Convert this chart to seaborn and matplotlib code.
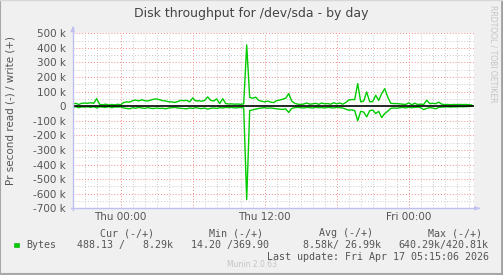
import numpy as np
import pandas as pd
import matplotlib
matplotlib.use("Agg")
import matplotlib.pyplot as plt
from matplotlib.patches import Rectangle
import seaborn as sns

# ---------------- data ----------------
start_hour = -4.0          # Wed 20:00 relative to Thu 00:00
step_hour = 0.25           # 15-minute samples
write_k = [15, 20, 12, 20, 22, 20, 24, 20, 52, 12,
           10, 14, 8, 12, 9, 13, 10, 25, 30, 28,
           38, 42, 36, 44, 38, 36, 42, 48, 50, 44,
           38, 36, 30, 30, 26, 32, 40, 38, 40, 30,
           57, 36, 38, 34, 40, 64, 40, 36, 50, 18,
           52, 18, 15, 16, 14, 15, 13, 16, 420, 60,
           55, 62, 40, 34, 30, 35, 28, 25, 38, 42,
           48, 55, 87, 35, 20, 14, 12, 15, 22, 14,
           16, 20, 13, 22, 16, 18, 14, 24, 16, 22,
           14, 25, 42, 46, 45, 155, 30, 35, 98, 30,
           32, 75, 40, 87, 120, 64, 20, 18, 18, 16,
           14, 12, 23, 10, 20, 12, 14, 12, 41, 18,
           20, 17, 28, 14, 11, 12, 10, 12, 11, 12,
           11, 12, 10, 8.29]
read_k = [8, 3, 10, 5, 6, 4, 8, 3, 12, 4,
          6, 8, 3, 10, 5, 6, 4, 12, 15, 18,
          10, 14, 8, 12, 15, 10, 14, 16, 12, 15,
          14, 18, 12, 10, 8, 12, 14, 16, 18, 12,
          15, 10, 14, 16, 12, 20, 14, 12, 15, 10,
          12, 8, 10, 8, 12, 10, 8, 12, 640, 30,
          25, 20, 15, 12, 10, 14, 12, 15, 18, 20,
          22, 18, 43, 15, 10, 8, 10, 12, 8, 10,
          12, 8, 10, 9, 12, 8, 10, 12, 8, 10,
          12, 20, 27, 25, 30, 100, 35, 40, 73, 30,
          27, 50, 35, 78, 50, 35, 15, 12, 14, 10,
          8, 12, 6, 10, 8, 6, 10, 23, 15, 10,
          12, 18, 8, 6, 5, 4, 6, 4, 5, 3,
          4, 3, 2, 0.49]
x_tick_hours = [0, 12, 24]
x_tick_labels = ["Thu 00:00", "Thu 12:00", "Fri 00:00"]
y_ticks_k = [500, 400, 300, 200, 100, 0, -100, -200, -300, -400, -500, -600, -700]

legend_header = ["Cur (-/+)", "Min (-/+)", "Avg (-/+)", "Max (-/+)"]
legend_values = ["488.13 /   8.29k", "14.20 /369.90", "8.58k/ 26.99k", "640.29k/420.81k"]
legend_name = "Bytes"
last_update = "Last update: Fri Apr 17 05:15:06 2026"
title = "Disk throughput for /dev/sda - by day"
ylabel = "Pr second read (-) / write (+)"

n = len(write_k)
hours = start_hour + step_hour * np.arange(n)
df = pd.DataFrame({
    "hour": np.concatenate([hours, hours]),
    "value": np.concatenate([np.array(write_k) * 1000, -np.array(read_k) * 1000]),
    "dir": ["write"] * n + ["read"] * n,
})

# ---------------- figure ----------------
W, H = 503, 275
fig = plt.figure(figsize=(W / 100, H / 100), dpi=100, facecolor="#F0F0F0")

def fx(x):
    return x / W

def fy(y):
    return 1 - y / H

L, R, T, B = 72.7, 474.0, 33.3, 208.3
ax = fig.add_axes([fx(L), fy(B), fx(R) - fx(L), fy(T) - fy(B)])
ax.set_facecolor("white")

x0 = start_hour
x1 = start_hour + (R - L) / 12.0
ax.set_xlim(x0, x1)
ax.set_ylim(-700000, 500000)

# grid
for h in np.arange(-3, 30, 1):
    if h % 6 != 0:
        ax.axvline(h, color="#C8C8C8", lw=0.7, ls=(0, (1, 2)), zorder=1)
for v in np.arange(-650000, 500001, 100000):
    ax.axhline(v, color="#C8C8C8", lw=0.7, ls=(0, (1, 2)), zorder=1)
for h in np.arange(0, 30, 6):
    ax.axvline(h, color="#F08A8A", lw=0.7, ls=(0, (1, 2)), zorder=1.5)
for v in y_ticks_k:
    if v != 0:
        ax.axhline(v * 1000, color="#F08A8A", lw=0.7, ls=(0, (1, 2)), zorder=1.5)

sns.lineplot(data=df[df["dir"] == "write"], x="hour", y="value", color="#00CC00",
             lw=1.0, ax=ax, zorder=3, estimator=None)
sns.lineplot(data=df[df["dir"] == "read"], x="hour", y="value", color="#00CC00",
             lw=1.0, ax=ax, zorder=3, estimator=None)
ax.axhline(0, color="black", lw=1.2, zorder=4)

for s in ax.spines.values():
    s.set_visible(False)

ax.set_xticks(x_tick_hours)
ax.set_xticklabels(x_tick_labels)
ax.set_yticks([v * 1000 for v in y_ticks_k])
ax.set_yticklabels([("%d k" % v) if v != 0 else "0" for v in y_ticks_k])
ax.tick_params(axis="both", length=0, colors="#555555", labelsize=7.5)
ax.tick_params(axis="y", pad=5)
ax.tick_params(axis="x", pad=3)
ax.set_xlabel("")
ax.set_ylabel("")

# axis lines with arrows (light blue)
axcol = "#C0C0F0"
fig.add_artist(plt.Line2D([fx(L), fx(L)], [fy(B + 2), fy(T - 6)], color=axcol, lw=1.0))
fig.add_artist(plt.Line2D([fx(L - 2), fx(R + 5)], [fy(B), fy(B)], color=axcol, lw=1.0))
ax.annotate("", xy=(fx(L), fy(T - 9)), xytext=(fx(L), fy(T - 3)), xycoords="figure fraction",
            arrowprops=dict(arrowstyle="-|>", color=axcol, lw=0.8, mutation_scale=6))
ax.annotate("", xy=(fx(R + 8), fy(B)), xytext=(fx(R + 2), fy(B)), xycoords="figure fraction",
            arrowprops=dict(arrowstyle="-|>", color=axcol, lw=0.8, mutation_scale=6))

# texts
fig.text(fx(251), fy(13.5), title, ha="center", va="center", fontsize=9, color="#444444")
fig.text(fx(10.7), fy(111), ylabel, ha="center", va="center", rotation=90,
         fontsize=7.5, color="#555555")
fig.text(fx(493), fy(5), "RRDTOOL / TOBI OETIKER", ha="center", va="top", rotation=270,
         fontsize=5.5, color="#C4C4C4")

mono = dict(family="DejaVu Sans Mono", fontsize=7.2, color="#555555", va="center")
hx = [100.3, 209.3, 319.0, 428.3]
for x, t in zip(hx, legend_header):
    fig.text(fx(x), fy(233.3), t, ha="left", **mono)
vx = [76.7, 190.7, 303.3, 398.3]
fig.text(fx(26.7), fy(245), legend_name, ha="left", **mono)
for x, t in zip(vx, legend_values):
    fig.text(fx(x), fy(245), t, ha="left", **mono)
fig.add_artist(Rectangle((fx(14), fy(247.3)), fx(4.5), fy(242.7) - fy(247.3),
                         transform=fig.transFigure, facecolor="#00CC00", edgecolor="#00AA00", lw=0.4))
fig.text(fx(489), fy(257.3), last_update, ha="right", **mono)
fig.text(fx(251.7), fy(264.5), "Munin 2.0.63", ha="center", va="center",
         fontsize=5.5, color="#C4C4C4")

# frame
fig.add_artist(plt.Line2D([0, 0], [0, 1], color="#A8A8A8", lw=1.5))
fig.add_artist(plt.Line2D([0, 1], [0.002, 0.002], color="#A8A8A8", lw=1.5))
fig.add_artist(plt.Line2D([0.998, 0.998], [0, 1], color="#A0A0A0", lw=2.0))
fig.add_artist(plt.Line2D([0, 1], [0.999, 0.999], color="#D8D8D8", lw=1.0))

fig.savefig("out.png", dpi=100, facecolor=fig.get_facecolor())
